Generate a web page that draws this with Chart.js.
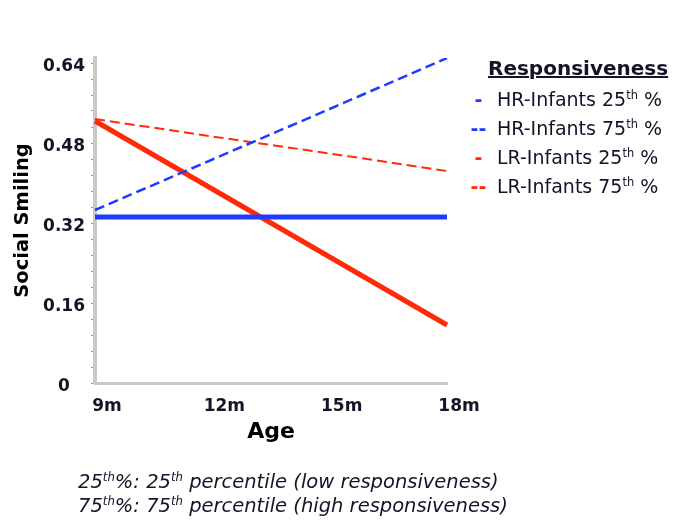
<!DOCTYPE html>
<html>
<head>
<meta charset="utf-8">
<script src="https://cdn.jsdelivr.net/npm/chart.js@4.4.1/dist/chart.umd.min.js"></script>
<style>
    body { margin: 0; width: 689px; height: 527px; overflow: hidden; background: #fff; position: relative; font-family: "DejaVu Sans", sans-serif; color: #141428; }
    #smiling { position: absolute; left: 0; top: 0; }
    #legend { position: absolute; left: 468px; top: 54px; white-space: nowrap; }
    #legend .title { font-weight: bold; font-size: 20px; text-decoration: underline; margin-left: 20px; line-height: 28px; margin-bottom: 3px; }
    #legend .row { font-size: 19px; line-height: 29px; }
    #legend .mark { display: inline-block; width: 21px; margin-right: 8px; text-align: center; font-weight: bold; }
    sup { font-size: 0.6em; vertical-align: 0.6em; line-height: 0; }
    #note { position: absolute; left: 78px; top: 470px; font-size: 19.5px; font-style: italic; line-height: 24px; white-space: nowrap; }
</style>
</head>
<body>
<canvas id="smiling" width="689" height="527"></canvas>
<div id="legend"></div>
<div id="note"></div>
<script>
const ageLabels = ['9m', '12m', '15m', '18m'];
const hr25 = [0.332, 0.332, 0.332, 0.332];
const hr75 = [0.346, 0.447, 0.548, 0.650];
const lr25 = [0.524, 0.388, 0.252, 0.116];
const lr75 = [0.528, 0.493, 0.459, 0.424];
const seriesLabels = ['HR-Infants 25th %', 'HR-Infants 75th %', 'LR-Infants 25th %', 'LR-Infants 75th %'];
const legendTitle = 'Responsiveness';
const notes = [
    '25th%: 25th percentile (low responsiveness)',
    '75th%: 75th percentile (high responsiveness)'
];
const yMajorStep = 0.16;
const yMinorStep = 0.032;
const yMax = 0.65;

const blue = '#1e3cff';
const red = '#ff2a0a';
const textColor = '#141428';
const fontFamily = '"DejaVu Sans", sans-serif';

function withSup(text) {
    return text.replace(/(\d+)th/g, '$1<sup>th</sup>');
}

// legend drawn as html so the "th" can be a superscript
const htmlLegend = {
    id: 'htmlLegend',
    afterUpdate(chart) {
        let box = document.querySelector('#legend');
        let html = `<div class="title">${legendTitle}</div>`;
        chart.data.datasets.forEach((ds) => {
            let mark = ds.borderDash ? '--' : '-';
            html += `<div class="row"><span class="mark" style="color:${ds.borderColor}">${mark}</span>${withSup(ds.label)}</div>`;
        });
        box.innerHTML = html;
    }
};

document.querySelector('#note').innerHTML = notes.map(withSup).join('<br>');

let canvas = document.querySelector('#smiling');
new Chart(canvas, {
    type: 'line',
    data: {
        labels: ageLabels,
        datasets: [{
            label: seriesLabels[0],
            data: hr25,
            borderColor: blue,
            borderWidth: 5
        }, {
            label: seriesLabels[1],
            data: hr75,
            borderColor: blue,
            borderWidth: 2.5,
            borderDash: [10, 5]
        }, {
            label: seriesLabels[2],
            data: lr25,
            borderColor: red,
            borderWidth: 5
        }, {
            label: seriesLabels[3],
            data: lr75,
            borderColor: red,
            borderWidth: 2,
            borderDash: [10, 5]
        }]
    },
    options: {
        responsive: false,
        animation: false,
        devicePixelRatio: 1,
        layout: {
            padding: { left: 0, top: 58, right: 242, bottom: 82 }
        },
        elements: {
            point: { radius: 0 },
            line: { tension: 0, borderCapStyle: 'butt' }
        },
        plugins: {
            legend: { display: false },
            tooltip: { enabled: false }
        },
        scales: {
            x: {
                grid: { drawOnChartArea: false, drawTicks: false },
                border: { color: '#c8c8c8', width: 3 },
                ticks: {
                    color: textColor,
                    font: { family: fontFamily, size: 17, weight: 'bold' },
                    padding: 13,
                    labelOffset: 12,
                    maxRotation: 0
                },
                title: {
                    display: true,
                    text: 'Age',
                    color: '#000',
                    font: { family: fontFamily, size: 22, weight: 'bold' },
                    padding: 0
                },
                afterFit: (scale) => { scale.height = 62; }
            },
            y: {
                min: 0,
                max: yMax,
                grid: { drawOnChartArea: false, color: '#999', tickLength: 4 },
                border: { color: '#c8c8c8', width: 4 },
                ticks: {
                    stepSize: yMinorStep,
                    includeBounds: false,
                    autoSkip: false,
                    crossAlign: 'center',
                    padding: 6,
                    labelOffset: 4,
                    color: textColor,
                    font: { family: fontFamily, size: 17, weight: 'bold' },
                    callback: (value) => {
                        let k = value / yMajorStep;
                        if (Math.abs(k - Math.round(k)) > 1e-6) {
                            return '';
                        }
                        return value === 0 ? '0' : value.toFixed(2);
                    }
                },
                title: {
                    display: true,
                    text: 'Social Smiling',
                    color: '#000',
                    font: { family: fontFamily, size: 19.5, weight: 'bold' },
                    padding: { top: 11, bottom: 0 }
                },
                afterFit: (scale) => { scale.width = 95; }
            }
        }
    },
    plugins: [htmlLegend]
});
</script>
</body>
</html>
